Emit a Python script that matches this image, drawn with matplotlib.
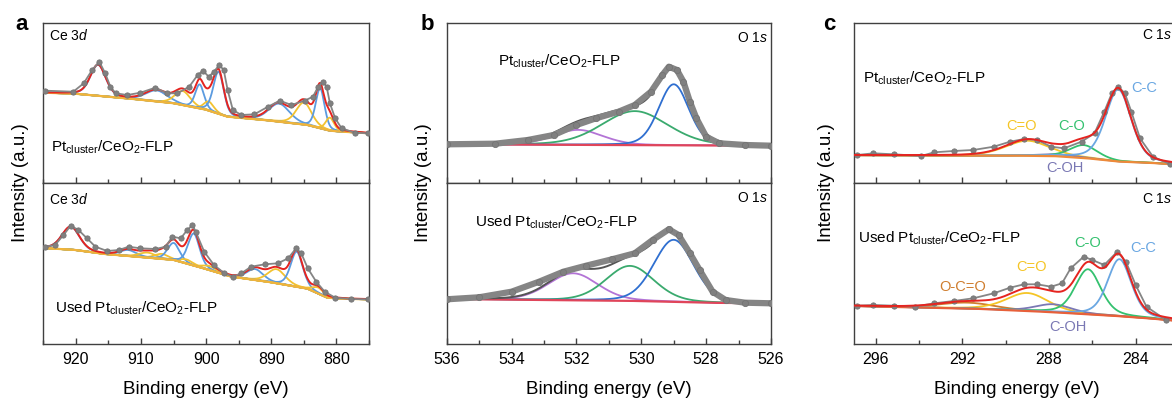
import numpy as np
import matplotlib
matplotlib.use('Agg')
import matplotlib.pyplot as plt
from matplotlib.ticker import MultipleLocator

plt.rcParams['font.family'] = ['Liberation Sans', 'DejaVu Sans']
plt.rcParams['mathtext.fontset'] = 'custom'
plt.rcParams['mathtext.rm'] = 'Liberation Sans'
plt.rcParams['mathtext.it'] = 'Liberation Sans:italic'
plt.rcParams['mathtext.default'] = 'regular'

W, H = 1172, 401

# ---------------- Ce 3d, fresh ----------------
ce1_be = [924.7, 920.4, 918.8, 917.5, 916.4, 915.5, 914.7, 913.9, 912.1, 910.1, 907.8, 906.0,
          904.4, 902.6, 901.3, 900.5, 899.6, 898.8, 898.0, 897.3, 896.7, 895.9, 894.6, 892.6,
          890.5, 888.7, 886.9, 884.9, 883.6, 882.8, 882.1, 881.5, 881.0, 880.2, 879.2, 877.2, 875.2]
ce1_int = [92, 91, 99.4, 112.7, 121, 109.4, 96, 89.4, 87.7, 90, 95, 89.4,
           89.4, 96, 107.7, 112, 106, 111, 117.7, 112.7, 92.7, 72.7, 67.7, 68.4,
           76, 82, 77.7, 82, 86, 96, 101, 96, 79.4, 64.4, 54.4, 50, 49.4]
ce1_bg_be = [925, 920, 915.2, 910, 904.9, 900, 896.7, 890, 884.4, 881, 879.2, 875]
ce1_bg = [90, 89, 86, 83, 79.4, 73, 66, 62, 57.7, 52, 51, 49.4]
ce1_pk_pos = [916.6, 907.6, 903.6, 901.0, 899.6, 898.1, 888.8, 885.0, 882.5, 881.0]
ce1_pk_amp = [31, 11, 14, 24, 9, 42, 18, 22, 40, 13]
ce1_pk_fwhm = [2.8, 4.0, 2.8, 1.6, 1.8, 1.9, 3.8, 2.8, 1.6, 1.5]
ce1_pk_kind = ['Ce4+', 'Ce4+', 'Ce3+', 'Ce4+', 'Ce3+', 'Ce4+', 'Ce4+', 'Ce3+', 'Ce4+', 'Ce3+']

# ---------------- Ce 3d, used ----------------
ce2_be = [924.7, 923.2, 921.9, 920.8, 919.6, 918.3, 917.0, 915.2, 913.4, 911.9, 910.1, 907.8,
          906.2, 905.2, 903.9, 902.9, 902.1, 901.6, 900.3, 898.8, 897.2, 895.9, 894.6, 893.1,
          891.0, 889.0, 887.4, 886.2, 885.4, 884.4, 883.1, 881.8, 880.2, 877.7, 875.2]
ce2_int = [97.3, 99, 109, 118.3, 114, 105.7, 97.3, 93, 94, 97.3, 95.7, 95,
           97.3, 107.3, 105.7, 114, 119, 112.3, 92.3, 79, 70.7, 67.3, 70.7, 77.3,
           79.7, 80.7, 85.7, 95.7, 90.7, 75.7, 62.3, 52.3, 46.3, 45, 44.7]
ce2_bg_be = [925, 920, 915.2, 910, 904.9, 899.5, 896.1, 889.6, 884.4, 881.4, 878, 875]
ce2_bg = [96, 94, 89.7, 87, 84, 74, 67.3, 61.3, 55.3, 46.3, 45, 44.7]
ce2_pk_pos = [920.8, 912.0, 909.0, 906.8, 905.0, 903.0, 901.9, 899.5, 892.5, 889.2, 886.1, 882.8]
ce2_pk_amp = [23, 6, 5, 5, 17, 4, 32, 4, 11, 14, 35, 6]
ce2_pk_fwhm = [3.2, 3.0, 3.0, 2.5, 2.2, 2.5, 2.1, 2.5, 3.0, 3.2, 2.2, 2.0]
ce2_pk_kind = ['Ce4+', 'Ce4+', 'Ce3+', 'Ce3+', 'Ce4+', 'Ce3+', 'Ce4+', 'Ce3+', 'Ce4+', 'Ce3+', 'Ce4+', 'Ce3+']

# ---------------- O 1s, fresh ----------------
o1_be = [536.0, 534.5, 533.5, 532.7, 532.0, 531.4, 530.7, 530.2, 529.7, 529.35, 529.15,
         528.9, 528.7, 528.5, 528.3, 528.0, 527.6, 526.8, 526.0]
o1_int = [38.4, 39, 42.7, 47.7, 57.7, 64.4, 71, 77.7, 91, 107.7, 116,
          112.7, 101, 81, 64.4, 46, 39.4, 37.7, 37]
o1_bg_be = [536, 526]
o1_bg = [38.4, 37]
o1_pk_pos = [531.95, 530.2, 529.0]
o1_pk_amp = [15, 34, 61]
o1_pk_fwhm = [1.8, 2.4, 1.1]
o1_pk_kind = ['O-OH', 'O-vac', 'O-lat']

# ---------------- O 1s, used ----------------
o2_be = [536.0, 535.0, 534.0, 533.15, 532.4, 531.7, 530.9, 530.2, 529.65, 529.15,
         528.85, 528.5, 528.2, 527.8, 527.4, 526.8, 526.0]
o2_int = [44.7, 46.7, 52.3, 62.3, 72.3, 78.3, 84.7, 90.7, 104, 114.7,
          109, 90.7, 74, 52.3, 44, 41.3, 40.7]
o2_bg_be = [536, 533, 530, 527.5, 526]
o2_bg = [45, 44, 43, 41, 40.7]
o2_pk_pos = [532.1, 530.35, 529.0]
o2_pk_amp = [27, 35, 62]
o2_pk_fwhm = [1.8, 1.75, 1.45]
o2_pk_kind = ['O-OH', 'O-vac', 'O-lat']

# ---------------- C 1s, fresh ----------------
c1_be = [296.85, 296.1, 295.15, 293.9, 293.3, 292.4, 291.5, 290.55, 289.8, 289.15, 288.55,
         287.9, 287.3, 286.5, 285.9, 285.45, 285.1, 284.8, 284.5, 284.2, 283.8, 283.2, 282.4]
c1_int = [27.7, 29.4, 28.4, 26.7, 30.4, 31.7, 32.7, 36, 41, 43.7, 42.7,
          36, 34.4, 41, 49.4, 71, 89.4, 96, 89.4, 71, 44.4, 26, 18.4]
c1_bg_be = [297, 292, 289, 287.6, 286, 284.7, 283, 282]
c1_bg = [27.5, 27, 27, 26.5, 24, 21, 19.5, 18]
c1_pk_pos = [289.0, 287.6, 286.4, 284.8]
c1_pk_amp = [15, 2, 13, 72]
c1_pk_fwhm = [2.4, 2.0, 1.5, 1.4]
c1_pk_kind = ['C=O', 'C-OH', 'C-O', 'C-C']

# ---------------- C 1s, used ----------------
c2_be = [296.85, 296.1, 295.15, 294.2, 293.3, 292.4, 291.5, 290.55, 289.8, 289.15, 288.55,
         287.9, 287.4, 287.0, 286.4, 286.0, 285.45, 284.85, 284.45, 284.0, 283.5, 282.6]
c2_int = [38.3, 39, 38.3, 37.3, 40.7, 43, 45.7, 50.7, 56.3, 59.7, 59.7,
          57.3, 60.7, 75.7, 87.3, 84, 79, 92.3, 82.3, 59, 37.3, 24]
c2_bg_be = [297, 294, 291, 288, 286, 284.5, 283, 282]
c2_bg = [38, 36.5, 35, 32, 29.5, 27.5, 25, 23]
c2_pk_pos = [291.8, 289.0, 287.8, 286.2, 284.75]
c2_pk_amp = [6, 18, 8, 45, 57]
c2_pk_fwhm = [3.0, 2.3, 2.0, 1.4, 1.3]
c2_pk_kind = ['O-C=O', 'C=O', 'C-OH', 'C-O', 'C-C']

colors = {'Ce4+': '#5b9be0', 'Ce3+': '#f2c230',
          'O-OH': '#b374d6', 'O-vac': '#3aaa6e', 'O-lat': '#2f6fd0',
          'C=O': '#f5c526', 'C-OH': '#7a78b4', 'C-O': '#34c16f', 'C-C': '#6aa7e2',
          'O-C=O': '#cf7d2e'}


def gl(x, c, a, w, m):
    g = np.exp(-4 * np.log(2) * ((x - c) / w) ** 2)
    l = 1 / (1 + 4 * ((x - c) / w) ** 2)
    return a * ((1 - m) * g + m * l)


def spectrum(ax, be, y, bg_be, bg, pos, amp, fwhm, kind, xlim, mix,
             bg_color, env_color, env_top=False, ms=3.8, lw_data=1.3):
    x = np.linspace(xlim[1], xlim[0], 800)
    base = np.interp(x, bg_be[::-1], bg[::-1])
    env = base.copy()
    for c, a, w, k in zip(pos, amp, fwhm, kind):
        p = gl(x, c, a, w, mix)
        env += p
        ax.plot(x, base + p, color=colors[k], lw=1.3, zorder=2)
    ax.plot(x, base, color=bg_color, lw=1.6, zorder=2.5)
    ax.plot(x, env, color=env_color, lw=1.4, zorder=4 if env_top else 2.8)
    ax.plot(be, y, color='#858585', lw=lw_data, marker='o', ms=ms,
            mec='#747474', mfc='#808080', mew=0.6, zorder=3)


def fx(px):
    return px / W


def fy(py):
    return 1 - py / H


fig = plt.figure(figsize=(W / 100, H / 100), dpi=100)

cols = [(43.3, 325.7, (925, 875), 10, 5),
        (446.7, 324.3, (536, 526), 2, 1),
        (854.0, 325.0, (297, 282), 4, 2)]
axes = []
for left, width, xl, maj, mnr in cols:
    top = fig.add_axes([fx(left), fy(182.7), width / W, 160 / H])
    bot = fig.add_axes([fx(left), fy(344), width / W, 161.3 / H])
    top.set_ylim(0, 160)
    bot.set_ylim(0, 161.3)
    for ax in (top, bot):
        ax.set_xlim(*xl)
        ax.xaxis.set_major_locator(MultipleLocator(maj))
        ax.xaxis.set_minor_locator(MultipleLocator(mnr))
        ax.set_yticks([])
        ax.tick_params(axis='x', which='both', direction='in', top=False,
                       labelsize=11.5, width=1, color='#404040', pad=6)
        ax.tick_params(axis='x', which='major', length=4)
        ax.tick_params(axis='x', which='minor', length=3)
        for s in ax.spines.values():
            s.set_color('#404040')
            s.set_linewidth(1)
    top.tick_params(axis='x', labelbottom=False)
    axes.append((top, bot))

(a1, a2), (b1, b2), (c1, c2) = axes

spectrum(a1, ce1_be, ce1_int, ce1_bg_be, ce1_bg, ce1_pk_pos, ce1_pk_amp, ce1_pk_fwhm,
         ce1_pk_kind, (925, 875), 0.3, '#f0b43c', '#e52420')
spectrum(a2, ce2_be, ce2_int, ce2_bg_be, ce2_bg, ce2_pk_pos, ce2_pk_amp, ce2_pk_fwhm,
         ce2_pk_kind, (925, 875), 0.3, '#f0b43c', '#e52420')
spectrum(b1, o1_be, o1_int, o1_bg_be, o1_bg, o1_pk_pos, o1_pk_amp, o1_pk_fwhm,
         o1_pk_kind, (536, 526), 0.2, '#e0455a', '#555555', ms=4.5, lw_data=4.5)
spectrum(b2, o2_be, o2_int, o2_bg_be, o2_bg, o2_pk_pos, o2_pk_amp, o2_pk_fwhm,
         o2_pk_kind, (536, 526), 0.2, '#e0455a', '#555555', ms=4.5, lw_data=4.5)
spectrum(c1, c1_be, c1_int, c1_bg_be, c1_bg, c1_pk_pos, c1_pk_amp, c1_pk_fwhm,
         c1_pk_kind, (297, 282), 0.35, '#ee8a3a', '#e52420', env_top=True)
spectrum(c2, c2_be, c2_int, c2_bg_be, c2_bg, c2_pk_pos, c2_pk_amp, c2_pk_fwhm,
         c2_pk_kind, (297, 282), 0.35, '#e8603a', '#e52420', env_top=True)

pt = r'Pt$_{cluster}$/CeO$_2$-FLP'
used = r'Used Pt$_{cluster}$/CeO$_2$-FLP'

# panel letters
for x, s in [(21.7, 'a'), (427, 'b'), (829, 'c')]:
    fig.text(fx(x), fy(24), s, fontsize=16, fontweight='bold', ha='center', va='center')

# axis labels
for x in [21, 423, 826.7]:
    fig.text(fx(x), fy(183), 'Intensity (a.u.)', fontsize=13.5, rotation=90,
             ha='center', va='center')
for x in [206, 608.8, 1016.5]:
    fig.text(fx(x), fy(389.3), 'Binding energy (eV)', fontsize=13.5,
             ha='center', va='center')

# panel a
fig.text(fx(49.3), fy(36), r'Ce $\mathit{3d}$', fontsize=10, va='center')
fig.text(fx(49.3), fy(200), r'Ce $\mathit{3d}$', fontsize=10, va='center')
fig.text(fx(51), fy(147), pt, fontsize=11, va='center')
fig.text(fx(55), fy(308), used, fontsize=11, va='center')

# panel b
fig.text(fx(767.7), fy(38), r'O $\mathit{1s}$', fontsize=10, va='center', ha='right')
fig.text(fx(767.7), fy(198), r'O $\mathit{1s}$', fontsize=10, va='center', ha='right')
fig.text(fx(498), fy(61), pt, fontsize=11, va='center')
fig.text(fx(475), fy(222.7), used, fontsize=11, va='center')

# panel c
fig.text(fx(1141.7), fy(35), r'C $\mathit{1s}$', fontsize=10, va='center')
fig.text(fx(1141.7), fy(199), r'C $\mathit{1s}$', fontsize=10, va='center')
fig.text(fx(862.7), fy(78), pt, fontsize=11, va='center')
fig.text(fx(858.3), fy(238.3), used, fontsize=11, va='center')

peak_labels = [
    ('C-C', 1131.7, 88.3, 'left'), ('C=O', 1021.7, 126, 'center'),
    ('C-O', 1071.7, 126, 'center'), ('C-OH', 1065, 168.3, 'center'),
    ('C-O', 1088, 243.3, 'center'), ('C-C', 1130, 248.3, 'left'),
    ('C=O', 1031.7, 267.3, 'center'), ('O-C=O', 962.7, 287.3, 'center'),
    ('C-OH', 1068.3, 326.7, 'center'),
]
for s, x, y, ha in peak_labels:
    fig.text(fx(x), fy(y), s, fontsize=10.5, color=colors[s], ha=ha, va='center')

fig.savefig('out.png', dpi=100)
